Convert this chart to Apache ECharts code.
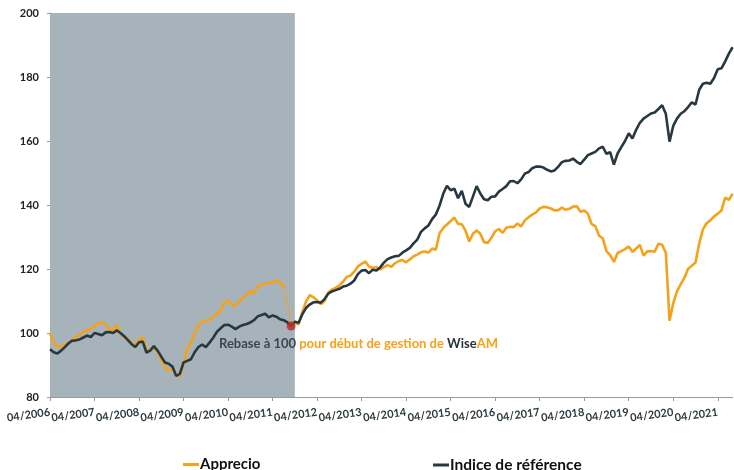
<!DOCTYPE html>
<html>
<head>
<meta charset="utf-8">
<script src="https://cdn.jsdelivr.net/npm/echarts@6/dist/echarts.min.js"></script>
<style>
html,body{margin:0;padding:0;background:#fff;}
#chart{width:734px;height:470px;}
</style>
</head>
<body>
<div id="chart"></div>
<script>
// Monthly categories from 04/2006 to 08/2021
const startYear = 2006, startMonth = 4, monthCount = 185;
const months = [];
for (let k = 0; k < monthCount; k++) {
  const t = startMonth - 1 + k;
  months.push(String(t % 12 + 1).padStart(2, '0') + '/' + (startYear + Math.floor(t / 12)));
}

const yTicks = [80, 100, 120, 140, 160, 180, 200];

const indice = [
  94.9, 94.0, 93.6, 94.5, 95.6, 96.8, 97.6, 97.7, 98.0, 98.6, 99.2, 98.7,
  100.0, 99.7, 99.3, 100.2, 100.3, 100.0, 100.8, 100.0, 99.0, 97.8, 96.5, 95.6,
  97.1, 97.3, 93.9, 94.5, 95.9, 94.5, 92.6, 90.8, 90.4, 89.5, 86.6, 87.2,
  90.8, 91.3, 91.8, 94.0, 95.6, 96.4, 95.6, 97.0, 98.5, 100.4, 101.5, 102.5,
  102.6, 102.0, 101.2, 102.0, 102.5, 102.8, 103.3, 104.0, 105.2, 105.6, 106.0, 104.9,
  105.5, 105.1, 104.3, 104.0, 103.3, 102.2, 103.5, 103.2, 105.8, 107.8, 108.9, 109.6,
  109.7, 109.5, 110.6, 112.3, 113.0, 113.4, 113.8, 114.5, 114.8, 115.4, 116.4, 118.4,
  119.5, 119.7, 118.7, 119.8, 119.5, 120.5, 122.0, 123.1, 123.6, 124.0, 124.1, 125.1,
  125.8, 126.6, 128.0, 129.2, 131.6, 132.7, 133.6, 135.6, 137.0, 139.8, 143.5, 146.0,
  144.6, 145.1, 142.1, 144.4, 140.4, 139.4, 142.6, 145.9, 143.6, 141.8, 141.5, 142.6,
  142.7, 144.2, 145.0, 145.9, 147.4, 147.5, 146.8, 148.0, 149.8, 150.3, 151.5, 152.0,
  152.0, 151.7, 151.0, 150.5, 150.8, 152.0, 153.4, 153.8, 153.9, 154.5, 153.5, 152.8,
  154.2, 155.6, 156.1, 156.6, 157.7, 158.2, 156.0, 156.5, 152.6, 156.1, 158.1, 160.0,
  162.4, 160.8, 163.5, 165.7, 167.0, 167.8, 168.6, 168.9, 170.0, 171.2, 168.5, 159.8,
  164.7, 167.0, 168.5, 169.3, 170.6, 172.1, 171.4, 176.0, 177.9, 178.2, 177.9, 179.7,
  182.4, 182.7, 184.9, 187.3, 189.3
];

const apprecio = [
  100.0, 97.0, 95.7, 95.8, 96.2, 97.0, 97.8, 98.8, 99.5, 100.3, 100.9, 101.1,
  102.3, 103.0, 103.3, 102.7, 101.0, 101.0, 102.6, 99.8, 98.5, 98.2, 96.5, 96.4,
  98.0, 98.6, 94.8, 94.8, 95.8, 94.0, 91.8, 89.3, 88.3, 88.8, 87.2, 86.3,
  90.5, 95.0, 97.0, 100.0, 102.2, 103.6, 103.8, 104.0, 105.2, 106.0, 107.0, 109.5,
  110.1, 108.8, 108.6, 110.0, 111.0, 111.9, 113.2, 112.4, 114.5, 115.1, 115.5, 115.6,
  115.8, 116.5, 115.8, 114.6, null, 102.2, 103.6, 102.6, 106.5, 109.8, 111.8, 111.2,
  110.2, 109.0, 110.0, 112.6, 113.6, 114.1, 114.9, 116.0, 117.6, 117.9, 119.2, 120.8,
  121.6, 122.3, 120.8, 120.3, 120.6, 119.9, 120.6, 121.2, 120.7, 121.8, 122.5, 122.8,
  122.1, 123.0, 124.0, 124.5, 125.2, 125.5, 125.1, 126.4, 126.0, 131.2, 132.8, 133.9,
  135.0, 136.0, 134.1, 134.0, 132.0, 128.6, 131.0, 132.0, 131.0, 128.4, 128.1, 129.8,
  131.8, 132.5, 131.3, 132.9, 133.2, 133.1, 134.2, 133.3, 135.2, 136.2, 137.0, 137.7,
  138.9, 139.4, 139.3, 138.9, 138.3, 138.4, 139.2, 138.5, 138.8, 139.5, 139.6, 137.9,
  138.3, 137.3, 134.0, 133.4, 130.4, 129.6, 125.6, 124.3, 122.2, 125.0, 125.6, 126.2,
  127.0, 125.3, 126.4, 127.5, 124.2, 125.5, 125.6, 125.4, 127.9, 127.6, 125.0, 103.8,
  109.3, 113.0, 115.2, 117.2, 120.1, 121.0, 122.0, 128.0, 132.4, 134.3, 135.2, 136.4,
  137.3, 138.3, 142.3, 141.6, 143.5
];

// dotted rebasing transition
const transitionIdx = [63, 64, 65];
const transitionVals = [114.6, 108.8, 102.2];
const rebaseIdx = 65;
const rebaseVal = 102.2;
const shadeEndIdx = 66;

const transition = months.map(() => null);
transitionIdx.forEach((ix, j) => { transition[ix] = transitionVals[j]; });

const ORANGE = '#f5a21b';
const DARK = '#283840';
const FONT = 'Lato';

const chart = echarts.init(document.getElementById('chart'), null, {renderer: 'canvas'});
chart.setOption({
  animation: false,
  backgroundColor: '#ffffff',
  grid: {left: 50, right: 1.4, top: 13, bottom: 73, containLabel: false},
  xAxis: {
    type: 'category',
    data: months,
    boundaryGap: false,
    axisLine: {lineStyle: {color: '#9a9a9a', width: 1}},
    axisTick: {show: true, interval: 11, length: 4, lineStyle: {color: '#9a9a9a'}},
    axisLabel: {
      interval: 11, rotate: 8, margin: 15,
      color: '#2d3a40', fontFamily: FONT, fontWeight: 'bold', fontSize: 11
    },
    splitLine: {show: false}
  },
  yAxis: {
    type: 'value',
    min: yTicks[0], max: yTicks[yTicks.length - 1], interval: 20,
    axisLine: {show: true, lineStyle: {color: '#9a9a9a', width: 1}},
    axisTick: {show: true, length: 3, lineStyle: {color: '#9a9a9a'}},
    axisLabel: {margin: 11, color: '#222', fontFamily: FONT, fontWeight: 'bold', fontSize: 11},
    splitLine: {show: false}
  },
  legend: [
    {data: ['Apprecio'], left: 178, top: 452, icon: 'rect', itemWidth: 16, itemHeight: 3,
     textStyle: {fontFamily: FONT, fontWeight: 'bold', fontSize: 15, color: '#111', padding: [0, 0, 0, -4]}},
    {data: ['Indice de référence'], left: 428, top: 452, icon: 'rect', itemWidth: 16, itemHeight: 3,
     textStyle: {fontFamily: FONT, fontWeight: 'bold', fontSize: 15.5, color: '#111', padding: [0, 0, 0, -4]}}
  ],
  graphic: [{
    type: 'text', left: 219, top: 337, z: 100,
    style: {
      text: '{a|Rebase à 100 }{b|pour début de gestion de }{c|Wise}{b|AM}',
      rich: {
        a: {fill: '#3b474e', fontFamily: FONT, fontWeight: 'bold', fontSize: 13},
        b: {fill: ORANGE, fontFamily: FONT, fontWeight: 'bold', fontSize: 13},
        c: {fill: '#263238', fontFamily: FONT, fontWeight: 'bold', fontSize: 13}
      }
    }
  }],
  series: [
    {
      name: 'Apprecio', type: 'line', data: apprecio, showSymbol: false, connectNulls: false,
      color: ORANGE, lineStyle: {color: ORANGE, width: 2.6}, z: 3,
      markArea: {
        silent: true,
        itemStyle: {color: '#a7b3ba'},
        data: [[{xAxis: months[0]}, {xAxis: months[shadeEndIdx]}]]
      }
    },
    {
      name: 'Indice de référence', type: 'line', data: indice, showSymbol: false,
      color: DARK, lineStyle: {color: DARK, width: 2.6}, z: 4
    },
    {
      name: 'rebase', type: 'line', data: transition, showSymbol: false, connectNulls: false,
      lineStyle: {color: ORANGE, width: 2.6, type: [2, 3]}, z: 3
    },
    {
      name: 'rebasePoint', type: 'scatter', data: [[rebaseIdx, rebaseVal]],
      symbolSize: 9, itemStyle: {color: '#b8312d', opacity: 0.85}, z: 5
    }
  ]
});
</script>
</body>
</html>
